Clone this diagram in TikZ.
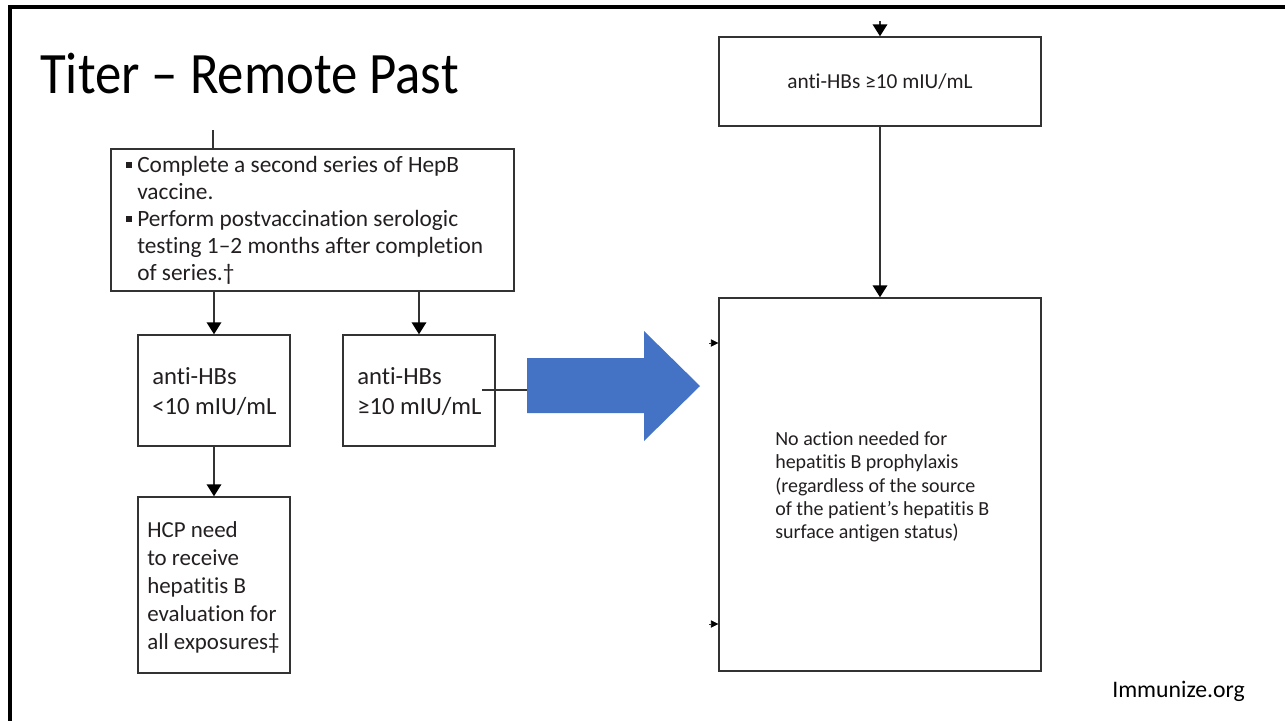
\documentclass[tikz,border=0pt]{standalone}
\usepackage{fontspec}
\setmainfont{Carlito}[Ligatures=NoCommon]
\usetikzlibrary{arrows.meta}
\definecolor{blueA}{HTML}{4472C4}
\definecolor{boxline}{HTML}{333333}
\definecolor{txtc}{HTML}{231F20}
\newcommand{\sqb}{\makebox[8.25pt][l]{\raisebox{0.18em}{\rule{0.25em}{0.25em}}}}
\begin{document}
\begin{tikzpicture}[x=0.75pt,y=-0.75pt,
  frame/.style={line width=2.4pt, black},
  box/.style={draw=boxline, line width=1.1pt, inner sep=0pt},
  txt/.style={text=txtc, inner sep=0pt, align=left},
  conn/.style={draw=boxline, line width=1.1pt},
  arr/.style={conn, -{Triangle[width=11pt,length=9pt,fill=black,color=black]}},
  smallarr/.style={conn, line width=0.5pt, -{Triangle[width=5.5pt,length=5.5pt,fill=black,color=black]}}]
\useasboundingbox (0,0) rectangle (1285,721);
% frame
\draw[frame] (10,721) -- (10,7) -- (1285,7);
% title and footer
\node[anchor=base west, inner sep=0pt, font=\fontsize{44}{50}\selectfont] (title) at (40,93) {\scalebox{0.9}[1]{Titer – Remote Past}};
\node[anchor=base west, inner sep=0pt, font=\fontsize{17.8}{21}\selectfont] (footer) at (1112,697) {Immunize.org};
% boxes
\node[box, minimum width=302.25pt, minimum height=106.5pt] (a) at (312.5,220) {};
\node[box, minimum width=114pt, minimum height=83.25pt] (b) at (214,390.5) {};
\node[box, minimum width=114pt, minimum height=83.25pt] (c) at (419,390.5) {};
\node[box, minimum width=114pt, minimum height=132pt] (d) at (214,585) {};
\node[box, minimum width=241.5pt, minimum height=66.75pt] (e) at (880,81.5) {};
\node[box, minimum width=241.5pt, minimum height=279.75pt] (f) at (880,484.5) {};
% texts
\node[txt, anchor=west, font=\fontsize{17.5}{20.25}\selectfont] (at) at (126,220)
 {\sqb Complete a second series of HepB\\
  \hspace*{8.25pt}vaccine.\\
  \sqb Perform postvaccination serologic\\
  \hspace*{8.25pt}testing 1–2 months after completion\\
  \hspace*{8.25pt}of series.\textdagger};
\node[txt, anchor=west, font=\fontsize{18.5}{22.5}\selectfont] (bt) at (152,392) {anti-HBs\\<10 mIU/mL};
\node[txt, anchor=west, font=\fontsize{18.5}{22.5}\selectfont] (ct) at (357,392) {anti-HBs\\≥10 mIU/mL};
\node[txt, anchor=west, font=\fontsize{17.2}{21}\selectfont] (dt) at (147,587)
 {HCP need\\to receive\\hepatitis B\\evaluation for\\all exposures\textdaggerdbl};
\node[txt, font=\fontsize{16}{19}\selectfont] (et) at (880,82) {anti-HBs ≥10 mIU/mL};
\node[txt, anchor=west, font=\fontsize{15}{17.5}\selectfont] (ft) at (775,487)
 {No action needed for\\hepatitis B prophylaxis\\(regardless of the source\\of the patient’s hepatitis B\\surface antigen status)};
% connectors
\coordinate (atop) at (213,130);
\draw[conn] (atop) -- (atop |- a.north);
\draw[arr] (b.north |- a.south) -- (b.north);
\draw[arr] (c.north |- a.south) -- (c.north);
\draw[arr] (b.south) -- (d.north);
\coordinate (etop) at (880,21);
\draw[arr] (etop) -- (e.north);
\draw[arr] (e.south) -- (f.north);
\coordinate (t1) at (709,343);
\coordinate (t2) at (709,624);
\draw[smallarr] (t1) -- (t1 -| f.west);
\draw[smallarr] (t2) -- (t2 -| f.west);
% blue arrow
\coordinate (ctail) at (482,390);
\coordinate (bluetail) at (527,390);
\fill[blueA] (527,358) -- (644,358) -- (644,331) -- (700,386) -- (644,441) -- (644,413) -- (527,413) -- cycle;
\draw[conn] (ctail) -- (bluetail);
\end{tikzpicture}
\end{document}
